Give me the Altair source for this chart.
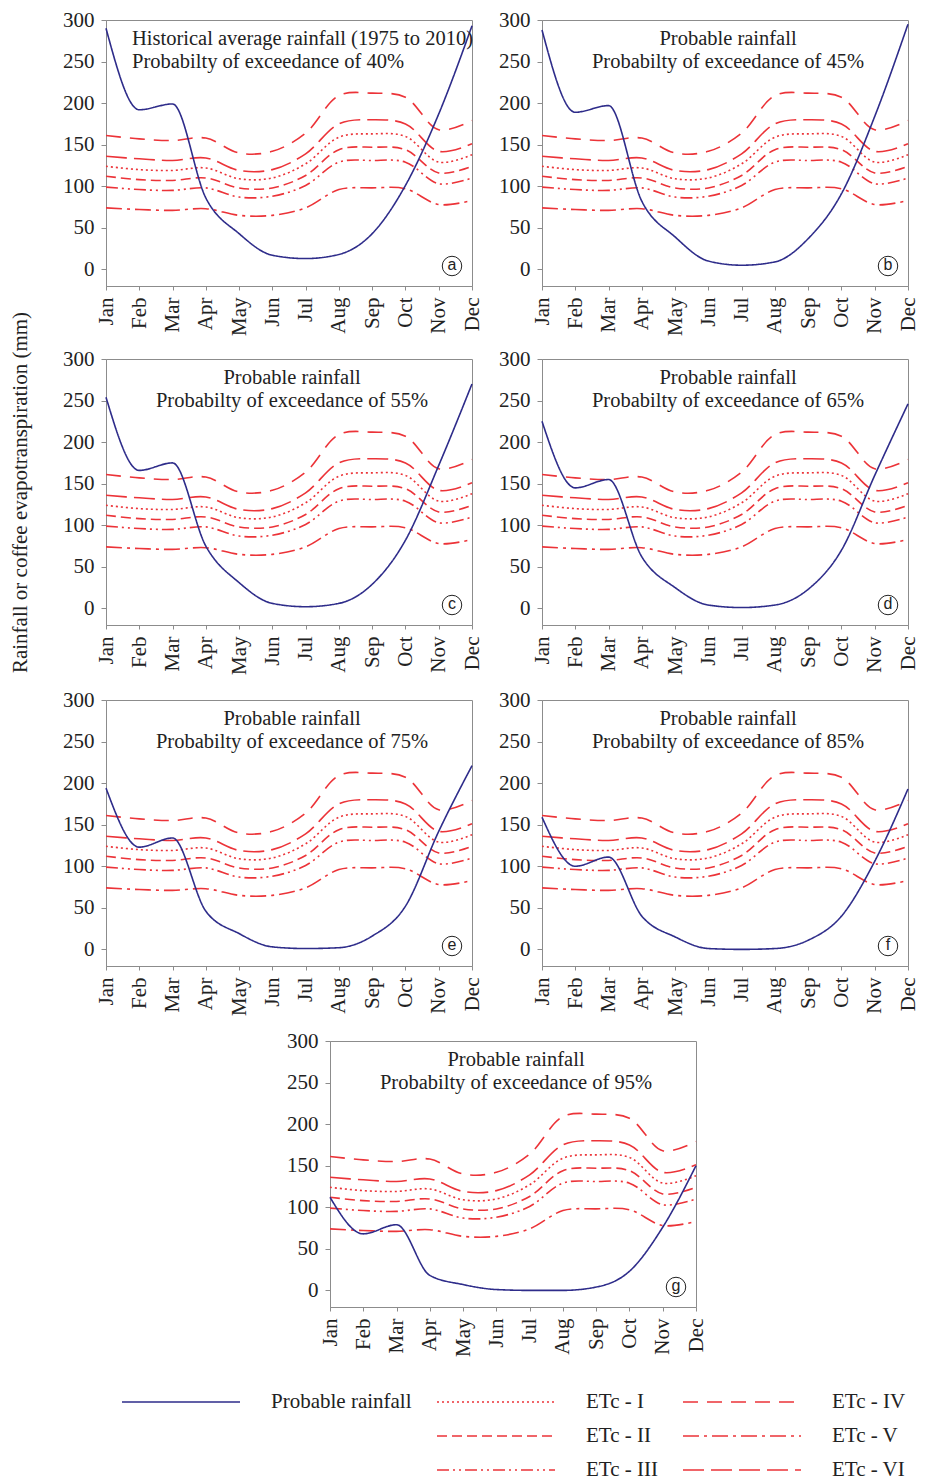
import altair as alt
import pandas as pd

months = ["Jan", "Feb", "Mar", "Apr", "May", "Jun", "Jul", "Aug", "Sep", "Oct", "Nov", "Dec"]

# Crop evapotranspiration (mm), identical in every panel
etc_names = ["ETc - I", "ETc - II", "ETc - III", "ETc - IV", "ETc - V", "ETc - VI"]
etc_I = [124, 120, 119, 122, 109, 110, 127, 159, 163, 160, 129, 138]
etc_II = [112, 108, 107, 110, 98, 98, 113, 144, 147, 144, 116, 124]
etc_III = [99, 96, 95, 98, 87, 88, 101, 129, 131, 129, 103, 110]
etc_IV = [161, 157, 155, 158, 140, 142, 164, 209, 212, 207, 168, 179]
etc_V = [74, 72, 71, 73, 65, 65, 74, 96, 98, 97, 78, 83]
etc_VI = [136, 133, 131, 134, 119, 120, 139, 175, 180, 175, 142, 151]
etc_values = [etc_I, etc_II, etc_III, etc_IV, etc_V, etc_VI]

# Probable rainfall (mm) per panel
rain_a = [290, 192, 199, 86, 43, 17, 13, 18, 43, 101, 187, 293]
rain_b = [288, 189, 197, 82, 39, 10, 5, 9, 37, 91, 184, 295]
rain_c = [254, 166, 175, 75, 31, 6, 2, 6, 29, 82, 172, 270]
rain_d = [225, 145, 155, 62, 25, 4, 1, 4, 23, 70, 160, 246]
rain_e = [194, 123, 134, 46, 19, 3, 1, 2, 16, 52, 142, 221]
rain_f = [159, 100, 111, 40, 15, 1, 0, 1, 11, 40, 106, 193]
rain_g = [112, 68, 79, 18, 7, 1, 0, 0, 4, 23, 76, 150]
rains = [rain_a, rain_b, rain_c, rain_d, rain_e, rain_f, rain_g]

title_line1 = ["Historical average rainfall (1975 to 2010)", "Probable rainfall", "Probable rainfall",
               "Probable rainfall", "Probable rainfall", "Probable rainfall", "Probable rainfall"]
title_line2 = ["Probabilty of exceedance of 40%", "Probabilty of exceedance of 45%",
               "Probabilty of exceedance of 55%", "Probabilty of exceedance of 65%",
               "Probabilty of exceedance of 75%", "Probabilty of exceedance of 85%",
               "Probabilty of exceedance of 95%"]
letters = ["a", "b", "c", "d", "e", "f", "g"]
y_ticks = [0, 50, 100, 150, 200, 250, 300]
y_title = "Rainfall or coffee evapotranspiration (mm)"
rain_name = "Probable rainfall"

# legend order (filled column by column, 3 columns, two blank slots)
legend_domain = [rain_name, " ", "  ", "ETc - I", "ETc - II", "ETc - III", "ETc - IV", "ETc - V", "ETc - VI"]
BLUE = "#2e2c8a"
RED = "#ec3338"
legend_colors = [BLUE, "transparent", "transparent", RED, RED, RED, RED, RED, RED]
legend_dashes = [[1, 0], [1, 0], [1, 0], [2, 3], [10, 5], [12, 4, 2, 4, 2, 4], [15, 9], [16, 5, 3, 5], [21, 7]]

SERIF = "Liberation Serif"
W, H = 366, 266

legend = alt.Legend(
    orient="none", legendX=15, legendY=1373, columns=3, direction="vertical", title=None,
    symbolType="stroke", symbolSize=118 * 118, symbolStrokeWidth=1.6,
    clipHeight=18, rowPadding=13, columnPadding=24, labelOffset=30,
    labelFont=SERIF, labelFontSize=21, labelColor="#222", padding=0,
)
color_enc = alt.Color("series:N", title=None,
                      scale=alt.Scale(domain=legend_domain, range=legend_colors), legend=legend)
dash_enc = alt.StrokeDash("series:N", title=None,
                          scale=alt.Scale(domain=legend_domain, range=legend_dashes), legend=legend)


def panel(i, show_ytitle):
    etc_df = pd.DataFrame({
        "Month": months * len(etc_names),
        "series": [n for n in etc_names for _ in months],
        "value": [v for vals in etc_values for v in vals],
    })
    rain_df = pd.DataFrame({"Month": months, "series": [rain_name] * 12, "value": rains[i]})

    if show_ytitle:
        yaxis = alt.Axis(values=y_ticks, title=y_title, titlePadding=32, tickSize=5, labelPadding=7, grid=False)
    else:
        yaxis = alt.Axis(values=y_ticks, title=None, tickSize=5, labelPadding=7, grid=False)
    xaxis = alt.Axis(title=None, labelAngle=270, tickSize=4, labelPadding=7, grid=False, labelOverlap=False)

    x = alt.X("Month:O", scale=alt.Scale(domain=months, padding=0), axis=xaxis)
    y = alt.Y("value:Q", scale=alt.Scale(domain=[-20, 300], nice=False, zero=False), axis=yaxis)

    etc = alt.Chart(etc_df).mark_line(interpolate="catmull-rom", strokeWidth=1.6).encode(
        x=x, y=y, color=color_enc, strokeDash=dash_enc, detail="series:N")
    rain = alt.Chart(rain_df).mark_line(interpolate="monotone", strokeWidth=1.6).encode(
        x=x, y=y, color=color_enc, strokeDash=dash_enc)

    tdf = pd.DataFrame({"t": [title_line1[i] + "\n" + title_line2[i]]})
    if i == 0:
        title = alt.Chart(tdf).mark_text(font=SERIF, fontSize=20.5, align="left", baseline="top",
                                         lineBreak="\n", lineHeight=23, color="#222").encode(
            text="t:N", x=alt.value(26), y=alt.value(9))
    else:
        title = alt.Chart(tdf).mark_text(font=SERIF, fontSize=20.5, align="center", baseline="top",
                                         lineBreak="\n", lineHeight=23, color="#222").encode(
            text="t:N", x=alt.value(186), y=alt.value(9))

    ldf = pd.DataFrame({"l": [letters[i]]})
    circ = alt.Chart(ldf).mark_point(shape="circle", size=380, filled=False, stroke="#222",
                                     strokeWidth=1, opacity=1).encode(x=alt.value(346), y=alt.value(246))
    let = alt.Chart(ldf).mark_text(font="Liberation Sans", fontSize=16, baseline="middle",
                                   align="center", color="#222", dy=-1).encode(
        text="l:N", x=alt.value(346), y=alt.value(246))

    return alt.layer(etc, rain, title, circ, let).properties(width=W, height=H)


pa = panel(0, False)
pb = panel(1, False)
pc = panel(2, True)
pd_ = panel(3, False)
pe = panel(4, False)
pf = panel(5, False)
pg = panel(6, False)

spacer_df = pd.DataFrame({"s": [0]})
spacer = alt.Chart(spacer_df).mark_point(opacity=0).encode(
    x=alt.value(0), y=alt.value(0)).properties(width=224, height=10,
                                               view=alt.ViewBackground(stroke="transparent"))

row1 = alt.hconcat(pa, pb, spacing=70, bounds="flush")
row2 = alt.hconcat(pc, pd_, spacing=70, bounds="flush")
row3 = alt.hconcat(pe, pf, spacing=70, bounds="flush")
row4 = alt.hconcat(spacer, pg, spacing=0, bounds="flush")

inner = alt.vconcat(row2, row3, row4, spacing=13).resolve_scale(color="shared", strokeDash="shared")

chart = alt.vconcat(row1, inner, spacing=-26).resolve_scale(
    color="shared", strokeDash="shared").resolve_legend(color="shared", strokeDash="shared").properties(
    padding={"left": 0, "top": 0, "right": 0, "bottom": 0}, background="white"
).configure_view(stroke="#8c8c8c", strokeWidth=1).configure_axis(
    labelFont=SERIF, labelFontSize=21, labelColor="#222", titleFont=SERIF, titleFontSize=21,
    titleFontWeight="normal", titleColor="#222", tickColor="#8c8c8c", domainColor="#8c8c8c",
)

chart.save("out.html", embed_options={"renderer": "svg", "actions": False})
